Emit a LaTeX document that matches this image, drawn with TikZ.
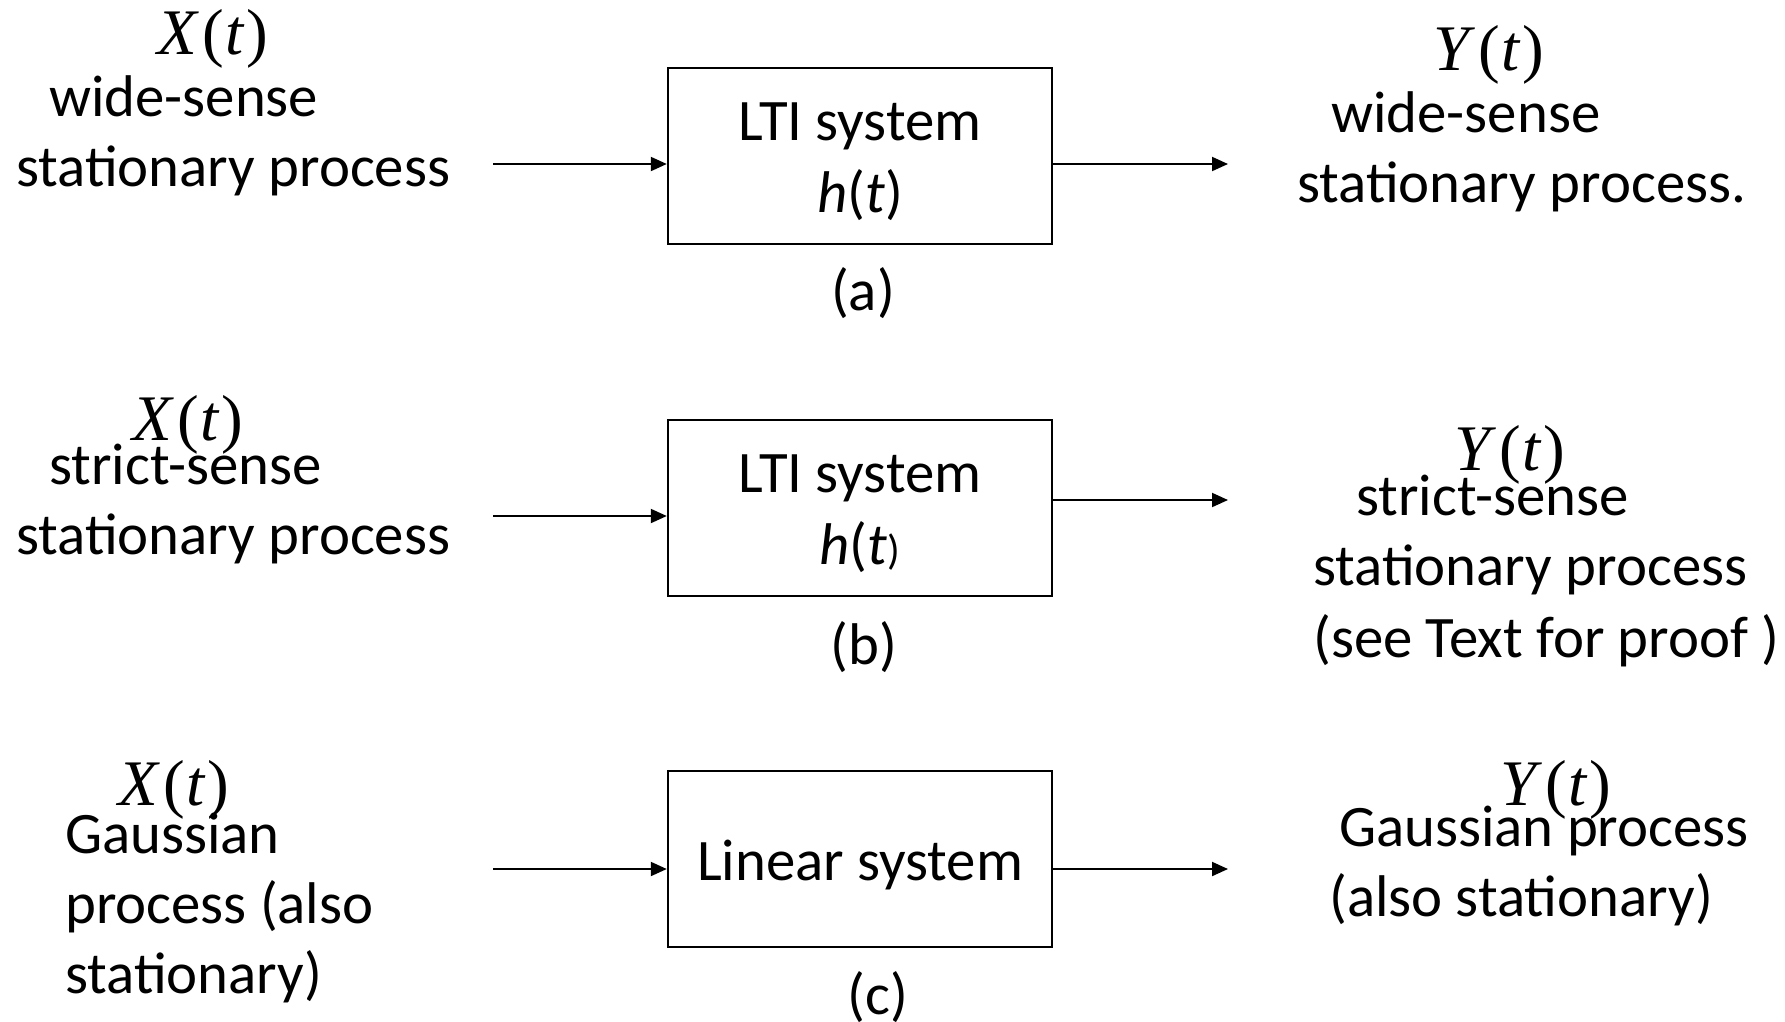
\documentclass[tikz,border=0pt]{standalone}
\usepackage{fontspec}
\setmainfont{Carlito}
\newfontfamily\serifsym{Liberation Serif}
\usetikzlibrary{arrows.meta}

\newcommand{\procsig}[1]{{\serifsym\fontsize{65}{70}\selectfont\textit{#1}\kern3pt(\kern1pt\textit{t}\kern2pt)}}

\tikzset{
  sysbox/.style={draw, line width=2.4pt, minimum width=384pt, minimum height=176pt},
  boxtxt/.style={align=center, inner sep=0pt, font=\fontsize{58.8}{72}\selectfont},
  txt/.style={anchor=base west, inner sep=0pt, font=\fontsize{58.8}{70}\selectfont},
  caption/.style={inner sep=0pt, font=\fontsize{58.8}{70}\selectfont},
  sig/.style={inner sep=0pt},
  flow/.style={line width=2pt, -{Triangle[length=16pt,width=14pt]}},
}

\begin{document}
\begin{tikzpicture}[x=1pt, y=-1pt]
  \useasboundingbox (0,0) rectangle (1785,1021);

  % (a) wide-sense stationary input
  \node[sig] (xa) at (213,39) {\procsig{X}};
  \node[txt] (xa1) at (49,116) {wide-sense};
  \node[txt] (xa2) at (16,186) {stationary process};
  \node[sysbox] (boxa) at (860,156) {};
  \node[boxtxt] (sysa) at ([yshift=-6pt]boxa.center) {LTI system\\\textit{h}(\textit{t})};
  \node[caption] (capa) at (863,293) {(a)};
  \node[sig] (ya) at (1489,55) {\procsig{Y}};
  \node[txt] (ya1) at (1331,132) {wide-sense};
  \node[txt] (ya2) at (1297,202) {stationary process.};

  \coordinate (ina) at (493,164);
  \coordinate (outa) at (1228,164);
  \draw[flow] (ina) -- (ina -| boxa.west);
  \draw[flow] (outa -| boxa.east) -- (outa);

  % (b) strict-sense stationary input
  \node[sig] (xb) at (188,425) {\procsig{X}};
  \node[txt] (xb1) at (49,484) {strict-sense};
  \node[txt] (xb2) at (16,554) {stationary process};
  \node[sysbox] (boxb) at (860,508) {};
  \node[boxtxt] (sysb) at ([yshift=-6pt]boxb.center) {LTI system\\\textit{h}(\textit{t}{\fontsize{42}{42}\selectfont)}};
  \node[caption] (capb) at (864,647) {(b)};
  \node[sig] (yb) at (1510,455) {\procsig{Y}};
  \node[txt] (yb1) at (1356,515) {strict-sense};
  \node[txt] (yb2) at (1313,585) {stationary process};
  \node[txt] (yb3) at (1313,657) {(see Text for proof )};

  \coordinate (inb) at (493,516);
  \coordinate (outb) at (1228,500);
  \draw[flow] (inb) -- (inb -| boxb.west);
  \draw[flow] (outb -| boxb.east) -- (outb);

  % (c) Gaussian input
  \node[sig] (xc) at (174,790) {\procsig{X}};
  \node[txt] (xc1) at (65,853) {Gaussian};
  \node[txt] (xc2) at (65,923) {process (also};
  \node[txt] (xc3) at (65,993) {stationary)};
  \node[sysbox] (boxc) at (860,859) {};
  \node[boxtxt] (sysc) at ([yshift=-6pt]boxc.center) {Linear system};
  \node[caption] (capc) at (878,997) {(c)};
  \node[sig] (yc) at (1556,790) {\procsig{Y}};
  \node[txt] (yc1) at (1339,846) {Gaussian process};
  \node[txt] (yc2) at (1329,916) {(also stationary)};

  \coordinate (inc) at (493,869);
  \coordinate (outc) at (1228,869);
  \draw[flow] (inc) -- (inc -| boxc.west);
  \draw[flow] (outc -| boxc.east) -- (outc);
\end{tikzpicture}
\end{document}
